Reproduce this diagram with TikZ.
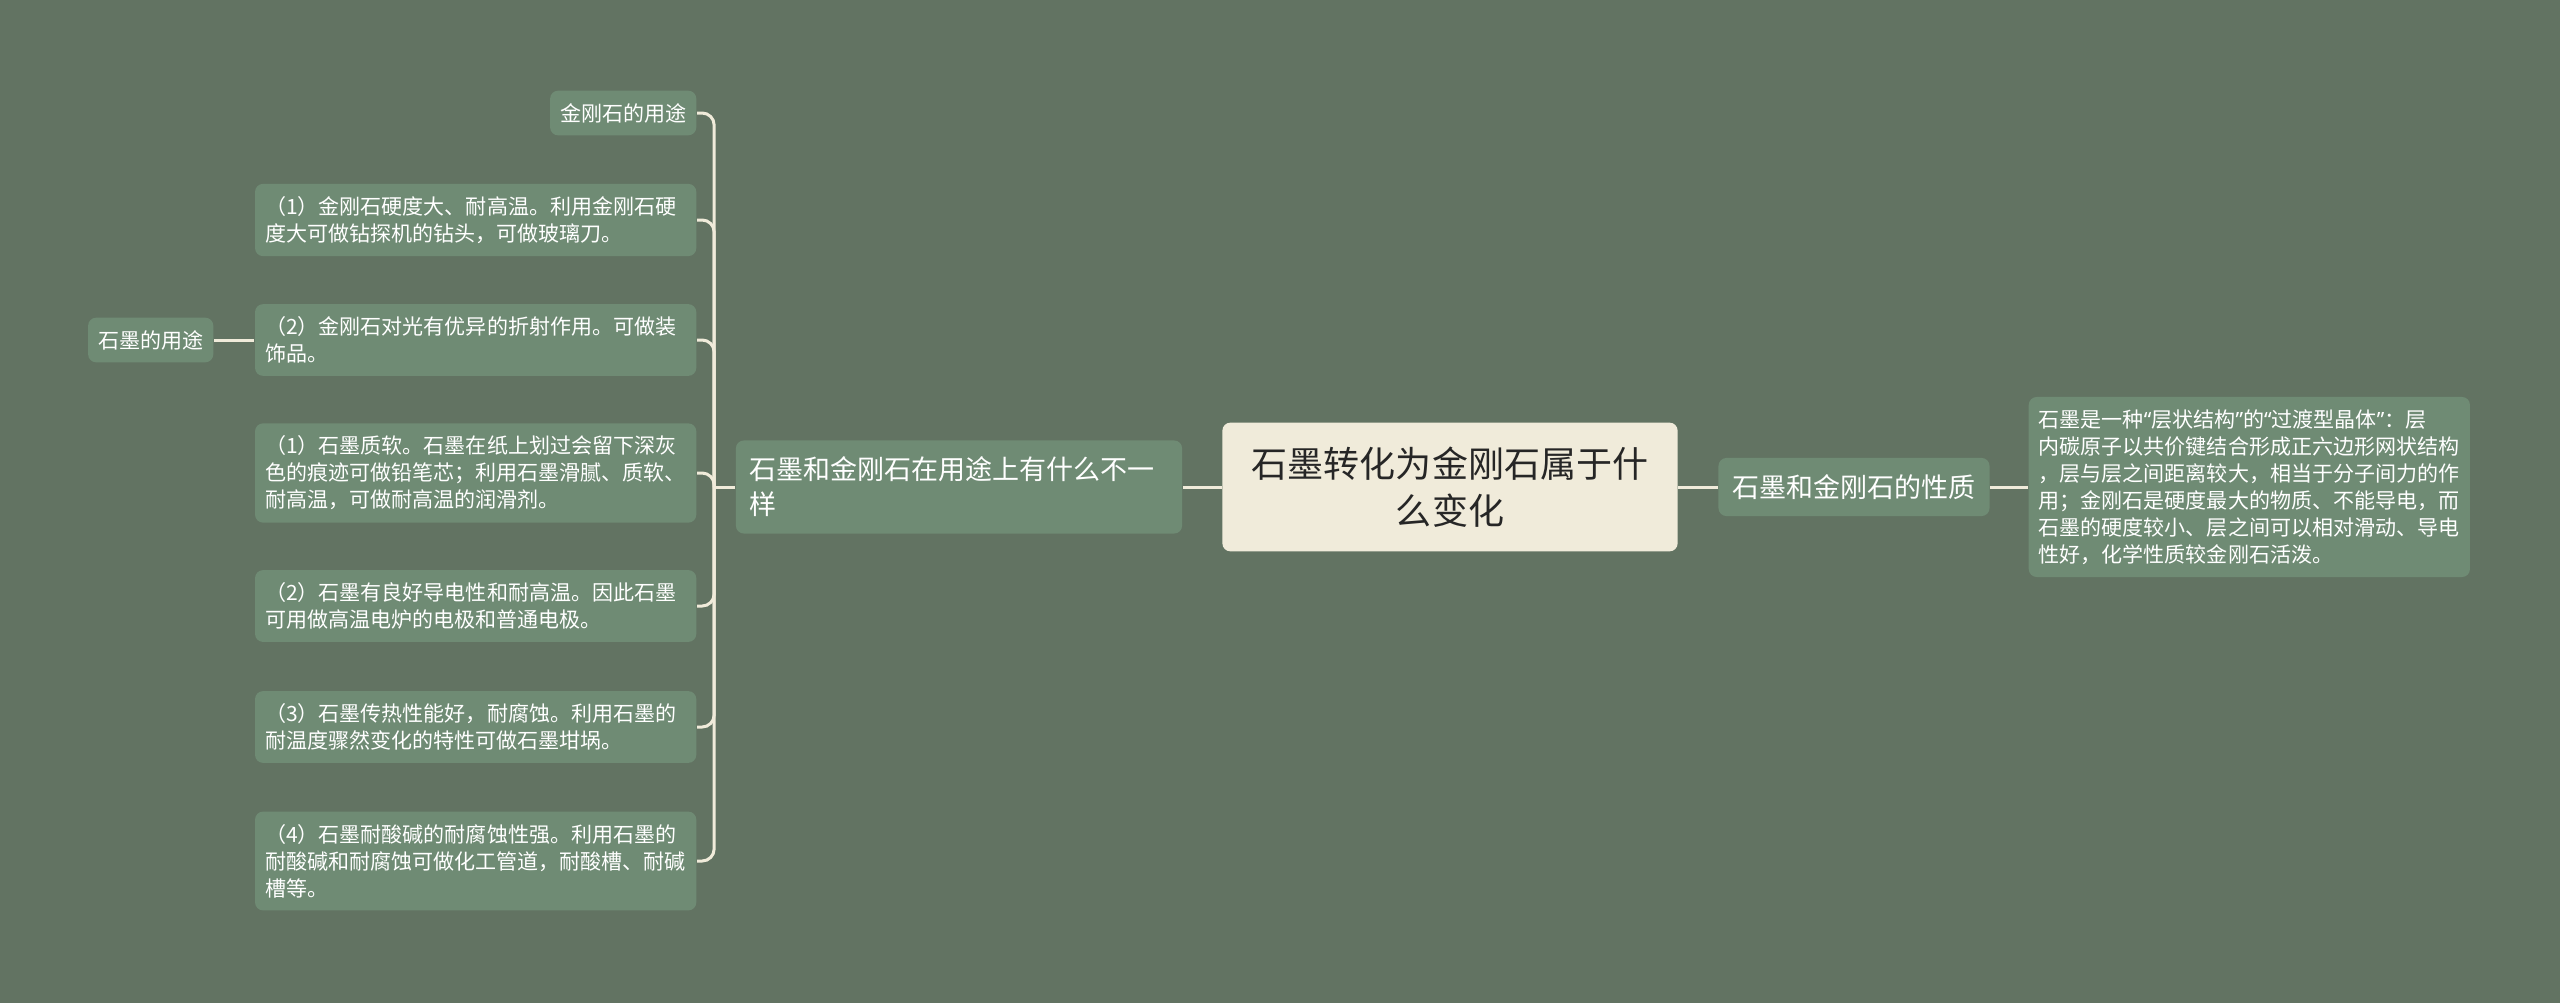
\documentclass[tikz,border=0pt]{standalone}
\usepackage{fontspec}
\setmainfont{Noto Sans CJK SC}
\newfontfamily\quotefont{Noto Sans}
\newcommand{\oq}{{\quotefont “}}
\newcommand{\cq}{{\quotefont ”}}
\definecolor{bgcol}{RGB}{98,115,98}
\definecolor{boxcol}{RGB}{111,139,116}
\definecolor{rootcol}{RGB}{240,235,218}
\definecolor{linecol}{RGB}{240,235,218}
\begin{document}
\begin{tikzpicture}[x=0.01cm,y=-0.01cm]
        % Define styles for the nodes
        \tikzstyle{topic}=[rectangle,rounded corners=0.08cm,fill=boxcol,text=white]
        \tikzstyle{rootbox}=[rectangle,rounded corners=0.08cm,fill=rootcol,text=black!85,align=center,text width=3.96cm,inner xsep=0.295cm,inner ysep=0.24cm,font=\fontsize{10.24pt}{13.4pt}\selectfont]
        \tikzstyle{mainbox}=[topic,align=left,inner xsep=0.14cm,inner ysep=0.165cm,font=\fontsize{7.68pt}{9.96pt}\selectfont]
        \tikzstyle{leaf}=[topic,align=left,inner xsep=0.1cm,inner ysep=0.125cm,font=\fontsize{5.98pt}{7.68pt}\selectfont]
        \tikzstyle{link}=[draw=linecol,line width=0.03cm]

        % Background and page size
        \fill[bgcol] (0,0) rectangle (2560,1003);
        \useasboundingbox (0,0) rectangle (2560,1003);

        % Root and the two main branches
        \node[rootbox] (root) at (1450,487) {石墨转化为金刚石属于什\\么变化};
        \node[mainbox,text width=4.18cm] (uses) at (959,487) {石墨和金刚石在用途上有什么不一\\样};
        \node[mainbox] (props) at (1854,487) {石墨和金刚石的性质};

        % Right leaf
        \node[leaf,anchor=west,text width=4.21cm] (propstext) at (2028,487) {石墨是一种\oq 层状结构\cq 的\oq 过渡型晶体\cq ：层\\内碳原子以共价键结合形成正六边形网状结构\\，层与层之间距离较大，相当于分子间力的作\\用；金刚石是硬度最大的物质、不能导电，而\\石墨的硬度较小、层之间可以相对滑动、导电\\性好，化学性质较金刚石活泼。};

        % Left leaves
        \node[leaf,anchor=east] (dia0) at (697,113) {金刚石的用途};
        \node[leaf,anchor=east,text width=4.21cm] (dia1) at (697,220) {（1）金刚石硬度大、耐高温。利用金刚石硬\\度大可做钻探机的钻头，可做玻璃刀。};
        \node[leaf,anchor=east,text width=4.21cm] (dia2) at (697,340) {（2）金刚石对光有优异的折射作用。可做装\\饰品。};
        \node[leaf,anchor=east,text width=4.21cm] (gra1) at (697,473) {（1）石墨质软。石墨在纸上划过会留下深灰\\色的痕迹可做铅笔芯；利用石墨滑腻、质软、\\耐高温，可做耐高温的润滑剂。};
        \node[leaf,anchor=east,text width=4.21cm] (gra2) at (697,606) {（2）石墨有良好导电性和耐高温。因此石墨\\可用做高温电炉的电极和普通电极。};
        \node[leaf,anchor=east,text width=4.21cm] (gra3) at (697,727) {（3）石墨传热性能好，耐腐蚀。利用石墨的\\耐温度骤然变化的特性可做石墨坩埚。};
        \node[leaf,anchor=east,text width=4.21cm] (gra4) at (697,861) {（4）石墨耐酸碱的耐腐蚀性强。利用石墨的\\耐酸碱和耐腐蚀可做化工管道，耐酸槽、耐碱\\槽等。};
        \node[leaf,anchor=east] (grause) at (214,340) {石墨的用途};

        % Connect the nodes
        \draw[link] (root.east) -- (props.west);
        \draw[link] (props.east) -- (propstext.west);
        \draw[link] (root.west) -- (uses.east);
        \coordinate (spine) at ([xshift=-0.21cm]uses.west);
        \draw[link] (uses.west) -- (spine);
        \foreach \kid in {dia0,dia1,dia2,gra1,gra2,gra3,gra4}
          \draw[link,rounded corners=0.12cm] (spine) |- (\kid.east);
        \draw[link] (grause.east) -- (dia2.west);
\end{tikzpicture}
\end{document}
